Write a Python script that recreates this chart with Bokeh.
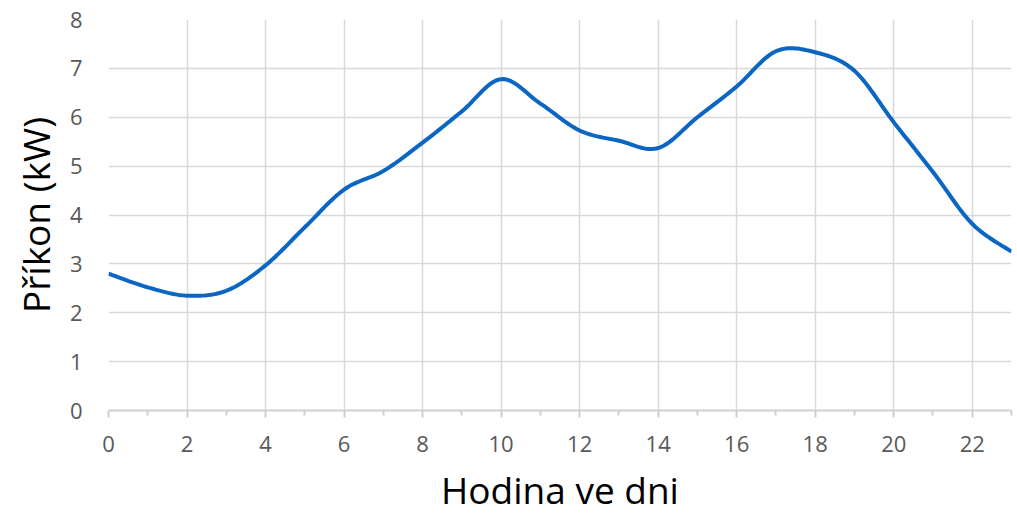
import numpy as np
from bokeh.plotting import figure
from bokeh.models import FixedTicker, Range1d
from bokeh.embed import file_html
from bokeh.resources import INLINE

hours = list(range(24))
power_kw = [2.8, 2.52, 2.35, 2.45, 2.97, 3.75, 4.52, 4.9, 5.48, 6.12, 6.78, 6.28,
            5.73, 5.52, 5.37, 6.0, 6.63, 7.35, 7.33, 6.95, 5.9, 4.88, 3.82, 3.25]
x_ticks = list(range(0, 23, 2))
x_minor = list(range(1, 24, 2))
y_ticks = list(range(0, 9))


def smooth(xs, ys, n=20):
    # Catmull-Rom (Excel-style smoothed line) through the data points
    xs = np.asarray(xs, float)
    ys = np.asarray(ys, float)
    px = np.concatenate([[xs[0]], xs, [xs[-1]]])
    py = np.concatenate([[ys[0]], ys, [ys[-1]]])
    ox, oy = [], []
    t = np.linspace(0, 1, n, endpoint=False)
    for i in range(1, len(px) - 2):
        p0x, p1x, p2x, p3x = px[i - 1:i + 3]
        p0y, p1y, p2y, p3y = py[i - 1:i + 3]
        c1x = p1x + (p2x - p0x) / 6
        c2x = p2x - (p3x - p1x) / 6
        c1y = p1y + (p2y - p0y) / 6
        c2y = p2y - (p3y - p1y) / 6
        bx = (1 - t) ** 3 * p1x + 3 * (1 - t) ** 2 * t * c1x + 3 * (1 - t) * t ** 2 * c2x + t ** 3 * p2x
        by = (1 - t) ** 3 * p1y + 3 * (1 - t) ** 2 * t * c1y + 3 * (1 - t) * t ** 2 * c2y + t ** 3 * p2y
        ox.extend(bx)
        oy.extend(by)
    ox.append(xs[-1])
    oy.append(ys[-1])
    return ox, oy


sx, sy = smooth(hours, power_kw)

p = figure(width=1017, height=517, output_backend="svg", toolbar_location=None,
           x_range=Range1d(0, 23), y_range=Range1d(0, 8),
           min_border_left=108, min_border_right=6, min_border_top=19, min_border_bottom=106)
p.outline_line_color = None

p.line(sx, sy, line_color="#0a66c2", line_width=4)

font = "Open Sans"
p.xaxis.ticker = FixedTicker(ticks=x_ticks, minor_ticks=x_minor)
p.yaxis.ticker = FixedTicker(ticks=y_ticks)

p.xaxis.axis_label = "Hodina ve dni"
p.yaxis.axis_label = "Příkon (kW)"
for ax in (p.xaxis, p.yaxis):
    ax.axis_label_text_font = font
    ax.axis_label_text_font_style = "normal"
    ax.axis_label_text_font_size = "37px"
    ax.axis_label_text_color = "#000000"
    ax.major_label_text_font = font
    ax.major_label_text_font_size = "22px"
    ax.major_label_text_color = "#595959"

p.xaxis.axis_line_color = "#d0d0d0"
p.xaxis.axis_line_width = 2
p.xaxis.major_tick_line_color = "#d0d0d0"
p.xaxis.major_tick_line_width = 2
p.xaxis.major_tick_out = 7
p.xaxis.major_tick_in = 0
p.xaxis.minor_tick_line_color = "#d0d0d0"
p.xaxis.minor_tick_line_width = 2
p.xaxis.minor_tick_out = 5
p.xaxis.minor_tick_in = 0
p.xaxis.major_label_standoff = 18
p.xaxis.axis_label_standoff = 9

p.yaxis.axis_line_color = None
p.yaxis.major_tick_line_color = None
p.yaxis.minor_tick_line_color = None
p.yaxis.major_label_standoff = 20
p.yaxis.axis_label_standoff = 6

p.xgrid.ticker = FixedTicker(ticks=x_ticks)
p.ygrid.ticker = FixedTicker(ticks=y_ticks)
p.grid.grid_line_color = "#d9d9d9"
p.grid.grid_line_width = 1.5

open("out.html", "w").write(file_html(p, INLINE))
